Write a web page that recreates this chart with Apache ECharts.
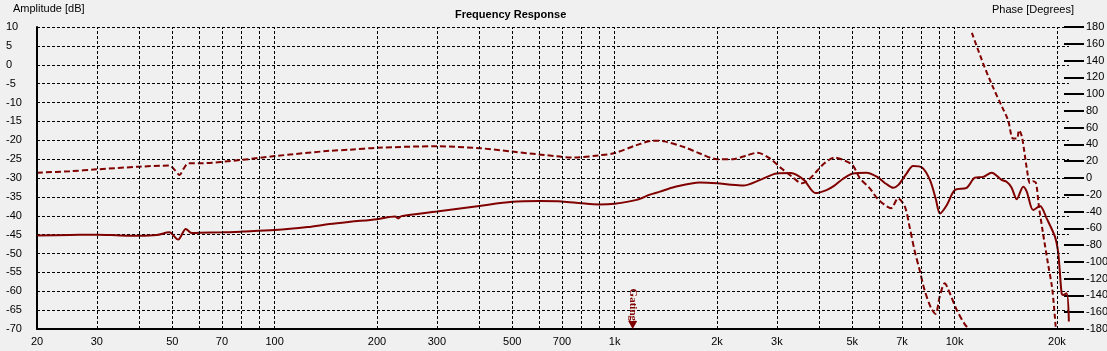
<!DOCTYPE html>
<html>
<head>
<meta charset="utf-8">
<title>Frequency Response</title>
<script src="https://cdn.jsdelivr.net/npm/echarts@6.0.0/dist/echarts.min.js"></script>
<style>
  html, body { margin: 0; padding: 0; background: #f0f0f0; }
  #chart { width: 1107px; height: 351px; }
</style>
</head>
<body>
<div id="chart"></div>
<script>
// solid trace, amplitude (Hz / dB)
const solidFreq = [20, 25, 30, 35, 40, 45, 49, 52, 54.8, 57, 60, 70, 80, 100, 125, 145, 167, 200, 226, 231, 236,
  300, 400, 500, 600, 700, 800, 900, 1000, 1160, 1270, 1360, 1500, 1780, 2000, 2200, 2390, 2680, 3000, 3300,
  3600, 3900, 4200, 4430, 4700, 5020, 5500, 5920, 6300, 6600, 6820, 7200, 7550, 8020, 8460, 8800, 9060, 9480,
  10020, 10850, 11480, 12140, 12850, 13750, 14220, 14700, 15230, 15920, 16300, 17030, 17830, 18650, 19740,
  20180, 20640, 20860, 21360, 21680];
const solidDb = [-45.2, -45.1, -45.0, -45.2, -45.3, -45.1, -44.4, -46.3, -43.5, -44.6, -44.5, -44.4, -44.2, -43.8,
  -43.0, -42.2, -41.6, -40.9, -40.2, -40.7, -40.1,
  -38.9, -37.4, -36.3, -36.1, -36.2, -36.7, -37.0, -36.8, -35.8, -34.4, -33.6, -32.4, -31.2, -31.4, -31.8,
  -32.0, -30.5, -28.8, -28.7, -30.5, -34.0, -33.2, -32.0, -30.2, -28.8, -28.6, -29.7, -31.6, -32.6, -31.9,
  -29.0, -26.8, -27.2, -30.5, -35.5, -39.4, -37.2, -33.2, -32.6, -29.9, -29.7, -28.6, -30.5, -31.0, -32.5,
  -35.6, -32.3, -33.6, -38.5, -37.4, -40.7, -45.6, -50.0, -60.5, -61.0, -60.5, -68.0];

// dashed trace, amplitude (Hz / dB)
const dashFreq = [20, 25, 30, 40, 49, 51, 52.5, 54, 55.8, 60, 80, 100, 145, 167, 200, 300, 400, 500, 620, 760,
  900, 1000, 1160, 1300, 1400, 1600, 1780, 2000, 2230, 2450, 2630, 2860, 3100, 3340, 3550, 3720, 3950, 4140,
  4430, 4700, 5010, 5260, 5640, 5920, 6200, 6500, 6820, 7140, 7370, 7620, 7890, 8160, 8530, 8790, 9040,
  9350, 9680, 10150, 10740, 11000];
const dashDb = [-28.6, -28.2, -27.7, -27.0, -26.7, -28.0, -29.2, -27.5, -26.1, -26.1, -25.2, -24.2, -22.8, -22.5,
  -22.0, -21.6, -22.1, -23.0, -23.9, -24.6, -24.0, -23.4, -21.3, -20.1, -20.3, -21.8, -23.5, -25.0, -25.0,
  -24.0, -23.3, -24.8, -27.5, -29.8, -31.4, -30.5, -28.0, -26.1, -24.6, -25.2, -26.6, -30.0, -32.8, -35.4,
  -37.0, -38.0, -35.4, -37.6, -42.9, -49.1, -54.4, -59.7, -64.5, -66.0, -61.4, -57.9, -60.5, -65.0, -68.9,
  -69.8];

// dashed trace, phase (Hz / degrees)
const phaseFreq = [11240, 12120, 12880, 13780, 14360, 14860, 15260, 15460, 15780, 16330, 16660, 17000, 17350,
  17700, 18200, 18820, 19340, 19600, 19850];
const phaseDeg = [173, 137, 111, 85, 69, 47, 47, 57, 49, 9.5, -6, -4, -6, -34, -66, -102, -130, -153, -180];

// vertical grid lines and the labels under the frequency axis
const gridFreq = [20, 30, 40, 50, 60, 70, 80, 90, 100, 200, 300, 400, 500, 600, 700, 800, 900,
  1000, 2000, 3000, 4000, 5000, 6000, 7000, 8000, 9000, 10000, 20000];
const tickFreq = [20, 30, 50, 70, 100, 200, 300, 500, 700, 1000, 2000, 3000, 5000, 7000, 10000, 20000];
const tickText = ['20', '30', '50', '70', '100', '200', '300', '500', '700', '1k', '2k', '3k', '5k', '7k', '10k', '20k'];

const gatingFreq = 1130;

const pairs = (xs, ys) => xs.map((x, i) => [x, ys[i]]);
const font = 'Liberation Sans, Arial, sans-serif';
const red = '#800000';
const gridDash = { color: '#000', width: 1, type: [3, 2] };

const chart = echarts.init(document.getElementById('chart'));
chart.setOption({
  backgroundColor: '#f0f0f0',
  animation: false,
  title: [
    { text: 'Frequency Response', left: 455, top: 9, padding: 0,
      textStyle: { fontSize: 11, fontWeight: 'bold', color: '#000', fontFamily: font } },
    { text: 'Amplitude [dB]', left: 13, top: 3, padding: 0,
      textStyle: { fontSize: 11, fontWeight: 'normal', color: '#000', fontFamily: font } },
    { text: 'Phase [Degrees]', left: 992, top: 4, padding: 0,
      textStyle: { fontSize: 11, fontWeight: 'normal', color: '#000', fontFamily: font } }
  ],
  grid: { left: 37, right: 38, top: 27, bottom: 22, containLabel: false, outerBoundsMode: 'none' },
  xAxis: {
    type: 'log',
    logBase: 10,
    min: 20,
    max: 21700,
    axisLine: { show: true, onZero: false, lineStyle: { color: '#000', width: 2 } },
    axisTick: { show: false },
    axisLabel: { show: false },
    splitLine: { show: false },
    minorSplitLine: { show: false }
  },
  yAxis: [
    {
      type: 'value',
      min: -70,
      max: 10,
      interval: 5,
      position: 'left',
      axisLine: { show: true, lineStyle: { color: '#000', width: 2 } },
      axisTick: { show: false },
      axisLabel: { align: 'left', margin: 31, fontSize: 11, color: '#000', fontFamily: font },
      splitLine: { show: true, lineStyle: gridDash }
    },
    {
      type: 'value',
      min: -180,
      max: 180,
      interval: 20,
      position: 'right',
      offset: 15,
      axisLine: { show: false },
      axisTick: { show: true, inside: true, length: 20, lineStyle: { color: '#000', width: 2 } },
      axisLabel: { margin: 2, fontSize: 11, color: '#000', fontFamily: font },
      splitLine: { show: false }
    }
  ],
  series: [
    {
      name: 'grid',
      type: 'line',
      data: [],
      silent: true,
      markLine: {
        silent: true,
        symbol: ['none', 'none'],
        lineStyle: gridDash,
        label: { position: 'start', distance: 7, fontSize: 11, color: '#000', fontFamily: font },
        data: gridFreq.map(f => {
          const k = tickFreq.indexOf(f);
          return { xAxis: f, label: { show: k >= 0, formatter: k >= 0 ? tickText[k] : '' } };
        })
      }
    },
    {
      name: 'Amplitude dashed',
      type: 'line',
      yAxisIndex: 0,
      data: pairs(dashFreq, dashDb),
      showSymbol: false,
      smooth: 0.3,
      lineStyle: { color: red, width: 2, type: [6, 3] },
      markPoint: {
        silent: true,
        symbol: 'triangle',
        symbolSize: [9, 8],
        symbolRotate: 180,
        symbolOffset: [0, -4],
        itemStyle: { color: red },
        label: {
          show: true,
          formatter: 'Gating',
          position: 'top',
          distance: 0,
          rotate: -90,
          align: 'right',
          verticalAlign: 'middle',
          fontSize: 11,
          fontWeight: 'bold',
          color: red,
          fontFamily: 'Liberation Serif, serif'
        },
        data: [{ coord: [gatingFreq, -70] }]
      }
    },
    {
      name: 'Amplitude',
      type: 'line',
      yAxisIndex: 0,
      data: pairs(solidFreq, solidDb),
      showSymbol: false,
      smooth: 0.3,
      lineStyle: { color: red, width: 2 }
    },
    {
      name: 'Phase',
      type: 'line',
      yAxisIndex: 1,
      data: pairs(phaseFreq, phaseDeg),
      showSymbol: false,
      smooth: 0.3,
      lineStyle: { color: red, width: 2, type: [5, 3] }
    }
  ]
});
</script>
</body>
</html>
